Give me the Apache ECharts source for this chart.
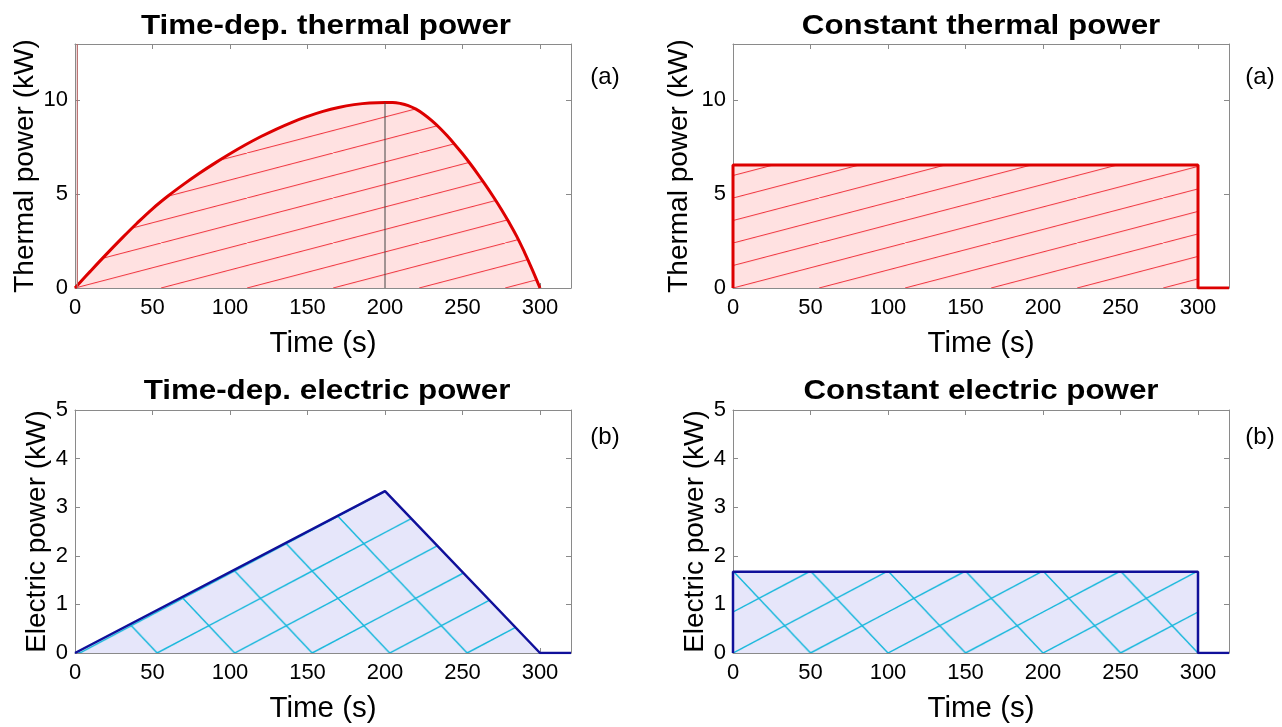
<!DOCTYPE html>
<html><head><meta charset="utf-8">
<script src="https://cdn.jsdelivr.net/npm/echarts@6/dist/echarts.min.js"></script>
<style>html,body{margin:0;padding:0;background:#fff;} #c{width:1282px;height:727px;}</style>
</head><body><div id="c"></div>
<script>
// ---------------- data ----------------
const panelTitles = ['Time-dep. thermal power', 'Constant thermal power', 'Time-dep. electric power', 'Constant electric power'];
const panelTags = ['(a)', '(a)', '(b)', '(b)'];
const xTicks = [0, 50, 100, 150, 200, 250, 300];
const yTicksThermal = [0, 5, 10];
const yTicksElectric = [0, 1, 2, 3, 4, 5];
const xName = 'Time (s)';
const yNameThermal = 'Thermal power (kW)';
const yNameElectric = 'Electric power (kW)';

// time-dependent thermal power
const thermalDepTime = [0,10,20,30,40,50,60,70,80,90,100,110,120,130,140,150,160,170,180,190,200,205,210,215,220,225,230,235,240,245,250,255,260,265,270,275,280,285,290,295,300];
const thermalDepPower = [0,0.9,1.78,2.63,3.45,4.22,4.9,5.52,6.1,6.64,7.15,7.63,8.07,8.47,8.83,9.14,9.41,9.62,9.77,9.86,9.88,9.88,9.83,9.72,9.53,9.26,8.93,8.55,8.12,7.65,7.15,6.62,6.06,5.47,4.85,4.2,3.5,2.75,1.9,0.98,0];
const thermalSpikeTime = [1.5, 1.5];
const thermalSpikePower = [0, 13];
const markerTime = 200;

// constant thermal power
const thermalConstTime = [0, 0, 300, 300, 320];
const thermalConstPower = [0, 6.55, 6.55, 0, 0];

// time-dependent electric power
const electricDepTime = [0, 200, 300, 320];
const electricDepPower = [0, 3.33, 0, 0];

// constant electric power
const electricConstTime = [0, 0, 300, 300, 320];
const electricConstPower = [0, 1.67, 1.67, 0, 0];

// ---------------- chart ----------------
const zip = (a, b) => a.map((v, i) => [v, b[i]]);
const FONT = '"Liberation Sans", Arial, Helvetica, sans-serif';
const GRAY = '#8a8a8a';
const grids = [
  {left: 75, top: 44, width: 496, height: 244},
  {left: 733, top: 44, width: 496, height: 244},
  {left: 75, top: 410, width: 496, height: 243},
  {left: 733, top: 410, width: 496, height: 243}
];
const isThermal = [true, true, false, false];
const yNameGap = [36, 40, 24, 24];

const xAxes = [], yAxes = [];
grids.forEach((g, i) => {
  const yt = isThermal[i] ? yTicksThermal : yTicksElectric;
  const ymax = isThermal[i] ? 13 : 5;
  const yint = isThermal[i] ? 5 : 1;
  const common = {type: 'value', gridIndex: i, splitLine: {show: false},
    axisLine: {show: true, onZero: false, lineStyle: {color: GRAY, width: 1}}};
  xAxes.push(Object.assign({}, common, {position: 'bottom', min: 0, max: 320, interval: 50,
    axisTick: {inside: true, length: 5, lineStyle: {color: GRAY}, customValues: xTicks},
    axisLabel: {customValues: xTicks, color: '#000', fontSize: 22, fontFamily: FONT, margin: 9},
    name: xName, nameLocation: 'middle', nameGap: 41,
    nameTextStyle: {fontSize: 29.5, color: '#000', fontFamily: FONT}}));
  xAxes.push(Object.assign({}, common, {position: 'top', min: 0, max: 320, interval: 50,
    axisTick: {inside: true, length: 5, lineStyle: {color: GRAY}, customValues: xTicks},
    axisLabel: {show: false}}));
  yAxes.push(Object.assign({}, common, {position: 'left', min: 0, max: ymax, interval: yint,
    axisTick: {inside: true, length: 5, lineStyle: {color: GRAY}, customValues: yt},
    axisLabel: {customValues: yt, color: '#000', fontSize: 22, fontFamily: FONT, margin: 7},
    name: isThermal[i] ? yNameThermal : yNameElectric, nameLocation: 'middle', nameGap: yNameGap[i],
    nameTextStyle: {fontSize: 28, color: '#000', fontFamily: FONT}}));
  yAxes.push(Object.assign({}, common, {position: 'right', min: 0, max: ymax, interval: yint,
    axisTick: {inside: true, length: 5, lineStyle: {color: GRAY}, customValues: yt},
    axisLabel: {show: false}}));
});

const RED = '#dd0000', PINK = '#ffe1e1', BLUE = '#10109a', LAV = '#e6e6fa';
function areaSeries(id, gi, data, lineColor, fill, lw, smooth) {
  return {id: id, type: 'line', xAxisIndex: 2 * gi, yAxisIndex: 2 * gi, data: data,
    showSymbol: false, symbol: 'none', smooth: smooth || false, clip: true, z: 3,
    lineStyle: {color: lineColor, width: lw}, areaStyle: {color: fill, opacity: 1, origin: 0}};
}
const series = [
  areaSeries('thDep', 0, zip(thermalDepTime, thermalDepPower), RED, PINK, 3, 0.4),
  {id: 'marker', type: 'line', xAxisIndex: 0, yAxisIndex: 0, showSymbol: false, symbol: 'none', z: 4,
    data: [[markerTime, 0], [markerTime, thermalDepPower[thermalDepTime.indexOf(markerTime)]]],
    lineStyle: {color: '#444', width: 1}},
  {id: 'spike', type: 'line', xAxisIndex: 0, yAxisIndex: 0, showSymbol: false, symbol: 'none', z: 4,
    data: zip(thermalSpikeTime, thermalSpikePower), lineStyle: {color: '#b86a6a', width: 1.2}},
  areaSeries('thConst', 1, zip(thermalConstTime, thermalConstPower), RED, PINK, 3),
  areaSeries('elDep', 2, zip(electricDepTime, electricDepPower), BLUE, LAV, 2.5),
  areaSeries('elConst', 3, zip(electricConstTime, electricConstPower), BLUE, LAV, 2.5)
];

const graphic = [];
const titlePos = [[326, 27], [981, 27], [327, 392], [981, 392]];
const tagPos = [[605, 77], [1260, 77], [605, 437], [1260, 437]];
panelTitles.forEach((t, i) => {
  graphic.push({type: 'text', x: titlePos[i][0], y: titlePos[i][1], scaleX: 1.16,
    style: {text: t, font: 'bold 27px ' + FONT, fill: '#000', align: 'center', verticalAlign: 'middle'}});
  graphic.push({type: 'text', x: tagPos[i][0], y: tagPos[i][1],
    style: {text: panelTags[i], font: '24px ' + FONT, fill: '#000', align: 'center', verticalAlign: 'middle'}});
});

const chart = echarts.init(document.getElementById('c'), null, {renderer: 'canvas'});
chart.setOption({animation: false, backgroundColor: '#fff', grid: grids, xAxis: xAxes, yAxis: yAxes, series: series, graphic: graphic});

// ---------------- hatch patterns ----------------
function hatchTile(cross, P, H, bg, color, lw) {
  const W = 2 * P;
  const c = document.createElement('canvas');
  c.width = W; c.height = H;
  const g = c.getContext('2d');
  g.fillStyle = bg; g.fillRect(0, 0, W, H);
  g.strokeStyle = color; g.lineWidth = lw;
  g.beginPath();
  for (let k = -3; k <= 3; k++) {
    const x0 = k * P;
    g.moveTo(x0, H); g.lineTo(x0 + W, 0);
    if (cross) { g.moveTo(x0, 0); g.lineTo(x0 + P, H); }
  }
  g.stroke();
  return c;
}
// spacing (s) between hatch lines along the time axis; slope ratio H/(2P)
const hatchSpec = [
  {id: 'thDep', cross: false, step: 55.5, slope: 0.262, bg: PINK, color: '#f0303a', lw: 1, t0: 0},
  {id: 'thConst', cross: false, step: 55.5, slope: 0.262, bg: PINK, color: '#f0303a', lw: 1, t0: 0},
  {id: 'elDep', cross: true, step: 50, slope: 0.525, bg: LAV, color: '#18b8dc', lw: 1.5, t0: 3},
  {id: 'elConst', cross: true, step: 50, slope: 0.525, bg: LAV, color: '#18b8dc', lw: 1.5, t0: 0}
];
const upd = hatchSpec.map((h, gi) => {
  const a = chart.convertToPixel({xAxisIndex: 2 * gi, yAxisIndex: 2 * gi}, [h.t0, 0]);
  const b = chart.convertToPixel({xAxisIndex: 2 * gi, yAxisIndex: 2 * gi}, [h.t0 + h.step, 0]);
  const pExact = b[0] - a[0];
  const P = Math.round(pExact);
  const H = Math.round(h.slope * 2 * P);
  return {id: h.id, areaStyle: {opacity: 1, color: {
    image: hatchTile(h.cross, P, H, h.bg, h.color, h.lw), repeat: 'repeat',
    x: a[0], y: a[1] - H, scaleX: pExact / P, scaleY: 1}}};
});
chart.setOption({series: upd});
</script></body></html>
